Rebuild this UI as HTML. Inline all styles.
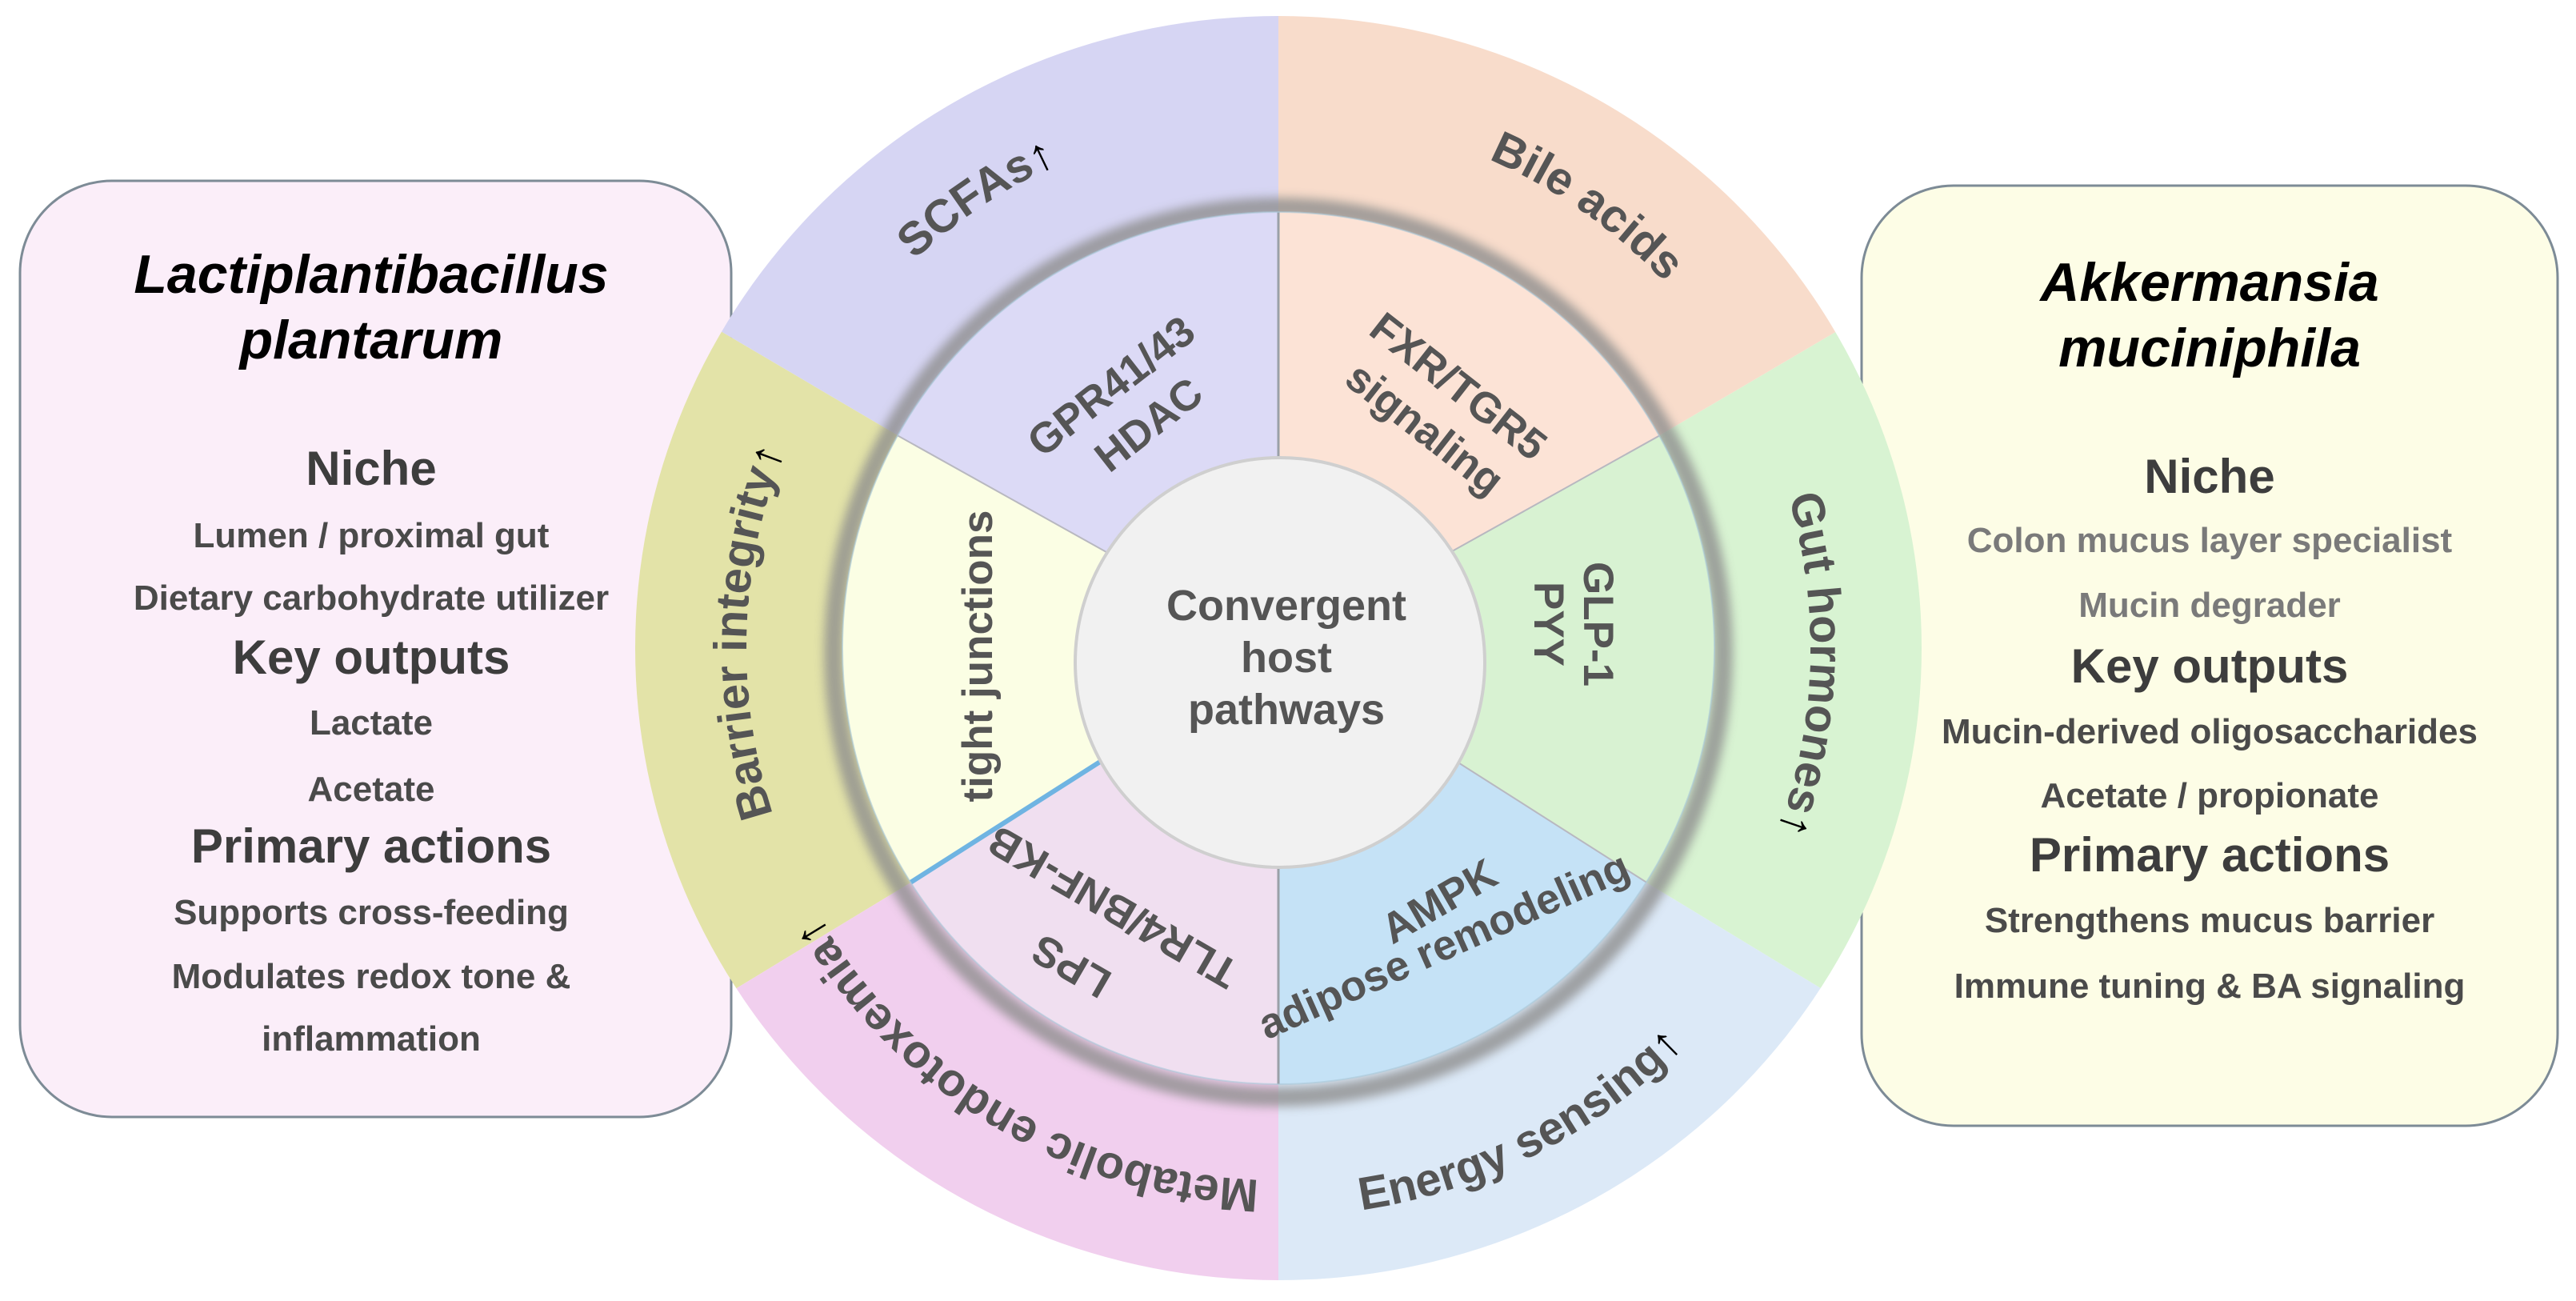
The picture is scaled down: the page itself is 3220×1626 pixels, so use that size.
<!DOCTYPE html>
<html><head><meta charset="utf-8"><style>
html,body{margin:0;padding:0;background:#fff;width:3220px;height:1626px;overflow:hidden}
svg{display:block}
text{font-family:"Liberation Sans",Arial,sans-serif;font-weight:bold}
</style></head><body>
<svg width="3220" height="1626" viewBox="0 0 3220 1626" xmlns="http://www.w3.org/2000/svg">
<defs>
<clipPath id="outer"><ellipse cx="1598" cy="810" rx="804" ry="790"/></clipPath>
<clipPath id="inner"><circle cx="1598" cy="810" r="545"/></clipPath>
<filter id="blur" x="-10%" y="-10%" width="120%" height="120%"><feGaussianBlur stdDeviation="6"/></filter>
<path id="cw" d="M1598,1475 A665,665 0 1 1 1598,145 A665,665 0 1 1 1598,1475"/>
<path id="ccw" d="M1598,100 A710,710 0 1 0 1598,1520 A710,710 0 1 0 1598,100"/>
</defs>

<rect x="25" y="226" width="889" height="1170" rx="115" fill="#fbeef9" stroke="#7d8b96" stroke-width="3"/>
<rect x="2327" y="232" width="870" height="1175" rx="115" fill="#fdfde6" stroke="#7d8b96" stroke-width="3"/>

<g text-anchor="middle" fill="#3d3d3d">
<text x="464" y="366" font-size="68" font-style="italic" fill="#000">Lactiplantibacillus</text>
<text x="464" y="448" font-size="68" font-style="italic" fill="#000">plantarum</text>
<text x="464" y="606" font-size="60">Niche</text>
<text x="464" y="684" font-size="44" fill="#4a4a4a">Lumen / proximal gut</text>
<text x="464" y="762" font-size="44" fill="#4a4a4a">Dietary carbohydrate utilizer</text>
<text x="464" y="842" font-size="60">Key outputs</text>
<text x="464" y="918" font-size="44" fill="#4a4a4a">Lactate</text>
<text x="464" y="1001" font-size="44" fill="#4a4a4a">Acetate</text>
<text x="464" y="1078" font-size="60">Primary actions</text>
<text x="464" y="1155" font-size="44" fill="#4a4a4a">Supports cross-feeding</text>
<text x="464" y="1235" font-size="44" fill="#4a4a4a">Modulates redox tone &amp;</text>
<text x="464" y="1313" font-size="44" fill="#4a4a4a">inflammation</text>

<text x="2762" y="376" font-size="68" font-style="italic" fill="#000">Akkermansia</text>
<text x="2762" y="458" font-size="68" font-style="italic" fill="#000">muciniphila</text>
<text x="2762" y="616" font-size="60">Niche</text>
<text x="2762" y="690" font-size="44" fill="#7a7a7a">Colon mucus layer specialist</text>
<text x="2762" y="771" font-size="44" fill="#7a7a7a">Mucin degrader</text>
<text x="2762" y="853" font-size="60">Key outputs</text>
<text x="2762" y="929" font-size="44" fill="#4a4a4a">Mucin-derived oligosaccharides</text>
<text x="2762" y="1009" font-size="44" fill="#4a4a4a">Acetate / propionate</text>
<text x="2762" y="1089" font-size="60">Primary actions</text>
<text x="2762" y="1165" font-size="44" fill="#4a4a4a">Strengthens mucus barrier</text>
<text x="2762" y="1247" font-size="44" fill="#4a4a4a">Immune tuning &amp; BA signaling</text>
</g>

<g clip-path="url(#outer)">
<polygon points="1598,824 1598,-2000 -2000,-2000 -2000,-1292" fill="#d6d5f3"/>
<polygon points="1598,824 -2000,-1292 -2000,3008" fill="#e3e3a8"/>
<polygon points="1598,824 -2000,3008 -2000,3600 1598,3600" fill="#f1cfee"/>
<polygon points="1598,824 1598,3600 5200,3600 5200,3008" fill="#dce9f7"/>
<polygon points="1598,824 5200,3008 5200,-1292" fill="#d8f3d2"/>
<polygon points="1598,824 5200,-1292 5200,-2000 1598,-2000" fill="#f8dccb"/>
</g>

<circle cx="1598" cy="815" r="556" fill="none" stroke="#8e8e8e" stroke-width="24" filter="url(#blur)" opacity="0.8"/>

<g clip-path="url(#inner)">
<polygon points="1598,810 1598,-2000 -2000,-2000 -2000,-1198" fill="#dcdaf6"/>
<polygon points="1598,810 -2000,-1198 -2000,3102" fill="#fbfee4"/>
<polygon points="1598,810 -2000,3102 -2000,3600 1598,3600" fill="#f0dff0"/>
<polygon points="1598,810 1598,3600 5200,3600 5200,3102" fill="#c5e2f6"/>
<polygon points="1598,810 5200,3102 5200,-1198" fill="#d8f2d2"/>
<polygon points="1598,810 5200,-1198 5200,-2000 1598,-2000" fill="#fce3d6"/>
<line x1="1598" y1="0" x2="1598" y2="1600" stroke="#9aa0a8" stroke-width="3"/>
<line x1="1598" y1="810" x2="-2000" y2="-1198" stroke="#b8b8c0" stroke-width="2"/>
<line x1="1598" y1="810" x2="5200" y2="-1198" stroke="#b8b8c0" stroke-width="2"/>
<line x1="1598" y1="810" x2="5200" y2="3102" stroke="#b8b8c0" stroke-width="2"/>
<line x1="1598" y1="810" x2="-2000" y2="3102" stroke="#6fb4e2" stroke-width="6"/>
</g>
<circle cx="1598" cy="810" r="545" fill="none" stroke="#a9c8d8" stroke-width="2" opacity="0.6"/>

<circle cx="1600" cy="828" r="256" fill="#f1f1f1" stroke="#cfcfcf" stroke-width="4"/>
<g text-anchor="middle" fill="#555" font-size="54">
<text x="1608" y="775">Convergent</text>
<text x="1608" y="840">host</text>
<text x="1608" y="905">pathways</text>
</g>

<g fill="#555" font-size="58" text-anchor="middle">
<text><textPath href="#cw" startOffset="25.5%">Barrier integrity<tspan fill="#000">↑</tspan></textPath></text>
<text><textPath href="#cw" startOffset="40.6%">SCFAs<tspan fill="#000">↑</tspan></textPath></text>
<text><textPath href="#cw" startOffset="59.7%">Bile acids</textPath></text>
<text><textPath href="#cw" startOffset="75.5%">Gut hormones<tspan fill="#000">↑</tspan></textPath></text>
<text><textPath href="#cw" startOffset="8.6%">Metabolic endotoxemia<tspan fill="#000">↑</tspan></textPath></text>
<text><textPath href="#ccw" startOffset="57.5%">Energy sensing<tspan fill="#000">↑</tspan></textPath></text>
</g>

<g fill="#555" font-size="53" text-anchor="middle">
<text transform="translate(1400,497) rotate(-38)">GPR41/43</text>
<text transform="translate(1447,545) rotate(-38)">HDAC</text>
<text transform="translate(1812,497) rotate(38)">FXR/TGR5</text>
<text transform="translate(1770,550) rotate(38)">signaling</text>
<text transform="translate(1980,780) rotate(90)">GLP-1</text>
<text transform="translate(1918,780) rotate(90)">PYY</text>
<text transform="translate(1240,820) rotate(-90)">tight junctions</text>
<text transform="translate(1400,1118) rotate(210)">TLR4/BNF-KB</text>
<text transform="translate(1348,1192) rotate(210)">LPS</text>
<text transform="translate(1808,1142) rotate(-30)">AMPK</text>
<text transform="translate(1812,1198) rotate(-24)">adipose remodeling</text>
</g>
</svg>
</body></html>
